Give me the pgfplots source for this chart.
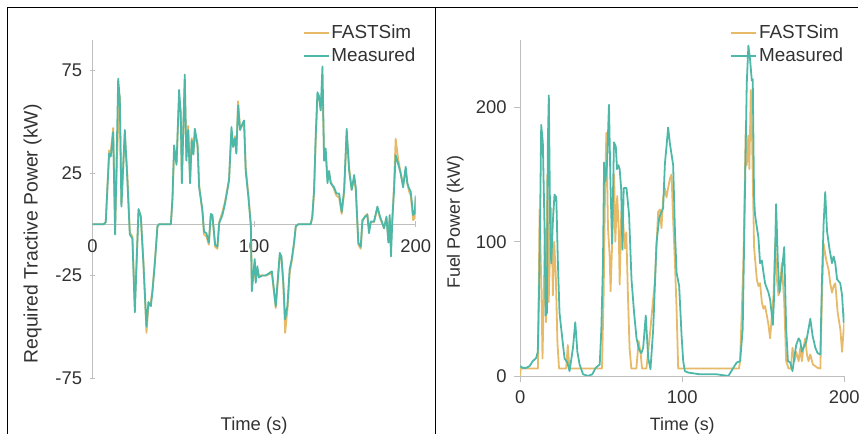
\documentclass[border=0pt]{standalone}
\usepackage{fontspec}
\setmainfont{Liberation Sans}
\usepackage{pgfplots}
\pgfplotsset{compat=1.18}
\definecolor{fast}{RGB}{231,186,106}
\definecolor{meas}{RGB}{77,184,168}
\definecolor{axgray}{RGB}{191,191,191}
\definecolor{txt}{RGB}{50,50,50}
\pgfplotsset{
 myax/.style={
  scale only axis,
  tick style={axgray, line width=0.8pt},
  major tick length=6pt,
  font=\fontsize{18.5}{22}\selectfont,
  tick label style={text=txt, font=\fontsize{18.5}{22}\selectfont},
  label style={text=txt, font=\fontsize{18}{22}\selectfont},
  legend style={draw=none, fill=none, font=\fontsize{19}{22}\selectfont, text=txt, row sep=4pt, inner sep=0pt, legend cell align=left},
  legend image code/.code={\draw[##1] (0pt,0pt) -- (25pt,0pt);},
  every axis plot/.append style={line width=1.8pt, line join=round},
  xmin=0, xmax=200,
  xtick={0,100,200},
  /pgf/number format/assume math mode=true,
 },
 noarrows/.style={
  axis line style={axgray, line width=0.8pt, -},
  every inner x axis line/.append style={-},
  every outer x axis line/.append style={-},
  every inner y axis line/.append style={-},
  every outer y axis line/.append style={-},
  x axis line style={-},
  y axis line style={-},
 }
}
\begin{document}
\begin{tikzpicture}[x=1pt,y=1pt]
\path (0,0) rectangle (863,436);
\draw[black, line width=1pt] (8,0) -- (8,428) -- (863,428);
\draw[black, line width=1pt] (438,0) -- (438,428);

\begin{axis}[myax, at={(93pt,56pt)}, anchor=south west, width=325pt, height=340pt,
  ymin=-75, ymax=90,
  axis y line=left, axis x line=middle, hide obscured x ticks=false,
  ytick={-75,-25,25,75}, yticklabels={-75,-25,25,75},
  xticklabels={0,100,200},
  xticklabel style={yshift=-9pt},
  yticklabel style={xshift=-4pt},
  ylabel={Required Tractive Power (kW)},
  ylabel style={at={(axis description cs:-0.185,0.426)}, anchor=center, font=\fontsize{19.5}{22}\selectfont},
  xlabel={Time (s)},
  xlabel style={at={(axis description cs:0.5,-0.142)}, anchor=center, text=txt},
  legend style={at={(axis description cs:1.006,1.05)}, anchor=north east},
  noarrows,
]
\addplot[fast] coordinates {(0,0) (7,0) (8.2,1) (10.3,36) (11.3,35) (12.8,47) (14,-2) (15.9,50) (16.9,63) (17.9,10) (20,44) (21.6,24) (23.1,-4) (24.7,-6) (26.2,-40) (28.5,7) (29.9,4) (31.5,-18) (33.4,-53) (34.6,-40) (36.1,-38) (37.1,-32) (38.6,-18) (40.2,-1) (41.2,0) (48.5,0) (49.5,12) (50.5,36) (52,30) (53.6,62) (54.6,55) (55.3,22) (57.1,70) (58.1,33) (59.2,48) (60.4,22) (61.4,42) (62.5,36) (63.3,45) (65,38) (66,19) (68,6) (69,-5) (70.5,-6) (72,-10) (73.2,4) (74.2,4) (75.9,-11) (77.3,-12) (78.4,1) (80.4,6) (82,11) (84.5,22) (86,45) (87,38) (88.2,43) (89,35) (90.1,60) (91.3,47) (92.8,48) (93.8,49) (94.8,28) (96.5,14) (98,0) (98.6,-30) (99.4,-27) (100.4,-19) (101,-27) (102,-22) (103,-25) (105,-25) (107.2,-25) (111,-24) (113.4,-41) (115.9,-15) (116.9,-16) (118.1,-30) (119.2,-53) (120.6,-42) (122,-24) (123.3,-18) (124.7,-10) (125.8,-1) (127.4,0) (135,0) (136,3) (137.1,15) (138.1,40) (139.2,62) (140.2,63) (141.2,56) (142.3,66) (143.3,34) (144.3,35) (145.4,22) (146.4,25) (147.4,21) (149.5,17) (150.9,14) (152.6,13) (154.2,5) (155.7,15) (157.3,44) (158.8,28) (160.4,17) (161.9,22) (162.9,17) (164.5,-10) (166,-12) (167,1) (168.7,4) (170.1,5) (171.1,-3) (172.2,1) (174.2,1) (176.3,8) (177.9,3) (179.4,0) (180.4,-2) (181.9,3) (183.1,-8) (183.9,3) (184.7,-10) (185.6,2) (186.6,20) (187.6,41.7) (189.1,32) (190.7,25) (192.2,19) (193.8,27) (194.8,20) (195.9,16) (196.9,14) (198.4,2) (199.4,3) (200,13)};
\addlegendentry{FASTSim}
\addplot[meas] coordinates {(0,0) (7,0) (8.2,1) (10.3,34.5) (11.3,33) (12.8,45) (14,-5) (15.9,71) (16.9,61) (17.9,8.6) (20,46) (21.6,21) (23.1,-5) (24.7,-7) (26.2,-43) (28.5,7.4) (29.9,3.7) (31.5,-19) (33.4,-50) (34.6,-38) (36.1,-40) (37.1,-33) (38.6,-19) (40.2,-1) (41.2,0) (48.5,0) (49.5,13) (50.5,38.5) (52,29) (53.6,65.5) (54.6,54) (55.3,20) (57.1,73) (58.1,31) (59.2,46) (60.4,20) (61.4,41) (62.5,34) (63.3,46.6) (65,39) (66,18) (68,7) (69,-3.6) (70.5,-4.4) (72,-9) (73.2,5) (74.2,4.5) (75.9,-10) (77.3,-11) (78.4,0.5) (80.4,4.5) (82,10) (84.5,21.5) (86,47.4) (87,37.7) (88.2,42) (89,34.5) (90.1,58) (91.3,46) (92.8,49) (93.8,50.6) (94.8,26) (96.5,13) (98,-1) (98.6,-32.7) (99.4,-25) (100.4,-17) (101,-28.6) (102,-20.5) (103,-26) (105,-25) (107.2,-25) (111,-23) (113.4,-40) (115.9,-14) (116.9,-15.7) (118.1,-28.6) (119.2,-46.4) (120.6,-40) (122,-22) (123.3,-17) (124.7,-9) (125.8,-1) (127.4,0) (135,0) (136,3.7) (137.1,16.7) (138.1,42.5) (139.2,64.4) (140.2,62) (141.2,55.5) (142.3,77) (143.3,31) (144.3,37) (145.4,20) (146.4,26) (147.4,20) (149.5,18) (150.9,15) (152.6,15) (154.2,6) (155.7,16.7) (157.3,46.6) (158.8,26) (160.4,16.7) (161.9,24) (162.9,18) (164.5,-9) (166,-11) (167,2) (168.7,3.7) (170.1,4.5) (171.1,-4.4) (172.2,1.3) (174.2,1.3) (176.3,8.6) (177.9,3.7) (179.4,0.5) (180.4,-2) (181.9,3.7) (183.1,-9) (183.9,4.5) (184.7,-15.7) (185.6,3.7) (186.6,16.7) (187.6,33.7) (189.1,29.6) (190.7,24.8) (192.2,18) (193.8,28) (194.8,20) (195.9,17.5) (196.9,16) (198.4,4.5) (199.4,5.3) (200,14)};
\addlegendentry{Measured}
\end{axis}

\begin{axis}[myax, at={(523pt,58pt)}, anchor=south west, width=326pt, height=337.5pt,
  ymin=0, ymax=250,
  axis y line=left, axis x line=bottom, tick align=outside,
  ytick={0,100,200},
  yticklabel style={xshift=-4pt},
  xticklabel style={yshift=-5pt},
  ylabel={Fuel Power (kW)},
  ylabel style={at={(axis description cs:-0.2,0.458)}, anchor=center},
  xlabel={Time (s)},
  xlabel style={at={(axis description cs:0.5,-0.15)}, anchor=center},
  legend style={at={(axis description cs:1.003,1.052)}, anchor=north east},
  noarrows,
]
\addplot[fast] coordinates {(0,0) (0.3,5.5) (11,5.5) (12,124) (13.2,60) (13.8,13) (14.6,60) (15.3,110) (16,40) (16.8,150) (17.6,55) (18.4,90) (19.3,125) (20.2,60) (21,100) (22,75) (23,25) (24,5.5) (28.4,5.5) (29.4,23) (30.4,5.5) (50.5,5.5) (51.5,60) (52.4,140) (53.2,181) (54.2,110) (55.2,90) (55.8,63) (57.2,115) (58,150) (58.7,100) (59.9,134) (60.8,110) (61.4,68) (62.4,122) (63.4,119) (64.5,95) (65.5,107) (66.5,60) (67.5,21) (68.6,5.5) (71.7,5.5) (73.1,26) (74.4,16) (75.2,5.5) (77.9,5.5) (80,30) (81.5,50) (83.1,70) (85.1,122) (86.2,124) (87.2,110) (88.2,132) (89.2,140) (90.3,133) (91.3,140) (92.4,147) (93.4,150) (94.4,116) (95.5,84) (96.5,50) (97.5,5.5) (135,5.5) (135.7,11) (137.7,84) (139.2,186) (139.8,157) (140.8,179) (141.4,154) (142.3,213) (142.9,190) (144.3,96) (146,72) (147,67) (148,69) (149.1,55) (150.1,50) (151.1,52) (152.2,45) (153.2,38) (154.2,28) (155.3,45) (156.3,60) (157.3,98.5) (158.4,72) (159.4,60) (160.4,67) (161.4,84) (162.9,55) (164.1,11) (165.6,5.5) (167,5.5) (168,21) (169.3,11) (170.3,18) (171.8,11) (172.8,21) (173.8,11) (174.8,21) (175.9,28) (176.9,16) (177.9,11) (179,16) (180.6,8.5) (182.1,7.3) (183.5,6) (185.2,5.5) (186.2,60) (187.2,98.5) (188.9,86) (190.3,79) (191.3,69) (192.4,62) (193.4,67) (194.4,69) (195.9,47) (197.5,35) (198.6,18) (199.6,35) (200,40)};
\addlegendentry{FASTSim}
\addplot[meas] coordinates {(0,7.3) (1.6,6) (3.7,6) (5.8,7.3) (7.8,11) (9.9,13.4) (10.9,18) (12,84) (13,187) (14,174) (15.1,108) (15.7,45) (16.5,47) (17.1,174) (17.7,209) (18.6,103) (19.2,84) (20.2,115) (21.2,135) (22.3,133) (23.3,84) (24.3,47) (26,28) (27.4,13) (29.1,10) (30.5,3.6) (32.6,21) (34,40) (35.3,18) (36.7,8.5) (38.8,1.2) (41.9,0) (44.5,1.2) (46.6,6) (49.1,8.5) (50.1,35) (51.1,84) (51.8,159) (52.6,145) (53.6,158) (54.8,202) (55.7,145) (56.7,98.5) (57.9,174) (59,171) (59.8,154) (60.6,157) (61.4,154) (62.3,140) (63.1,94) (63.9,140) (65.6,140) (67.2,120) (68.7,72) (70.3,47) (71.8,28) (73.4,19.5) (74.8,17) (75.9,21) (77.5,45) (79,13.4) (80.4,5) (82.1,35) (84.1,98.5) (85.8,118) (88.2,125) (89.3,158) (90.3,171) (91.3,185) (92.4,173) (93.4,165) (94.4,157) (95.5,108) (96.5,77) (98.1,67) (99.6,30) (100.6,11) (101.6,3.6) (103.7,2.5) (110.9,1.2) (121.2,1.2) (128.5,0) (131.5,6) (133.6,10) (135.7,11) (137.3,35) (138.8,145) (139.8,218) (140.8,246) (141.9,235) (142.9,220) (143.5,221) (144.3,133) (144.9,120) (147,103) (148,84) (149.1,86) (150.1,77) (151.1,69) (153.2,62) (154.2,57) (155.9,38) (156.7,60) (157.9,128) (159,84) (160,62) (161.4,77) (162.9,96) (164.1,35) (165.2,11) (166.6,10) (168,3.6) (169.3,15) (170.3,23) (171.8,28) (172.8,26) (173.8,18) (174.8,21) (176.5,25.5) (177.9,35) (179,42.6) (180.4,30) (182.1,21) (183.5,17) (185.2,16) (186.2,72) (187.2,113) (188.2,137) (189.3,108) (190.9,94) (192.4,84) (193.4,89) (194.4,84) (195.5,72) (197.5,69) (198.6,60) (199.6,40) (200,47)};
\addlegendentry{Measured}
\end{axis}
\end{tikzpicture}
\end{document}
